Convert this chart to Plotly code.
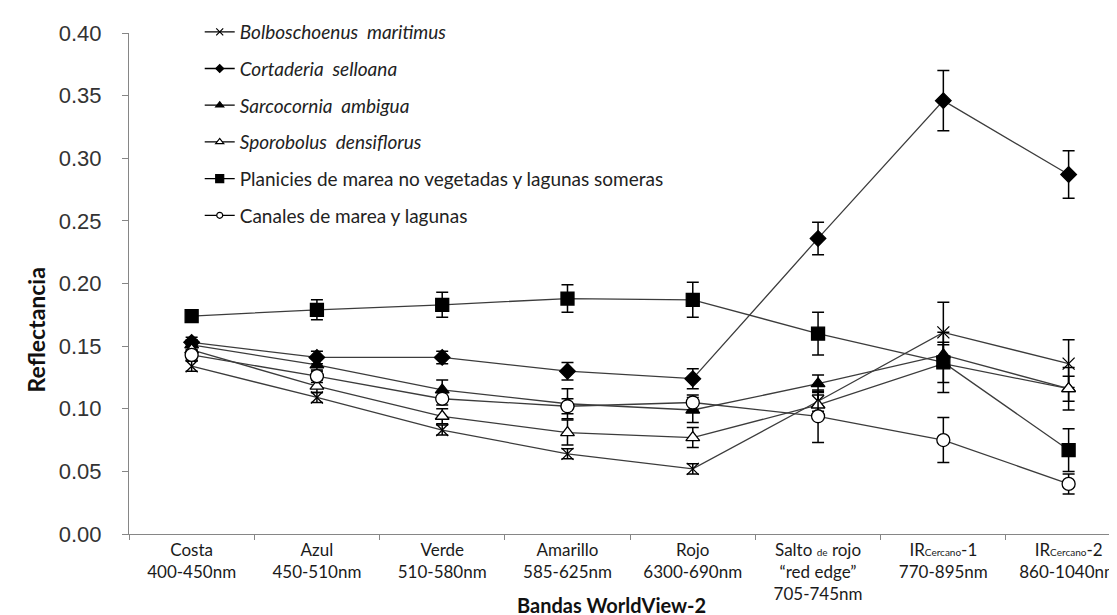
import plotly.graph_objects as go

categories = [
    "Costa<br>400-450nm",
    "Azul<br>450-510nm",
    "Verde<br>510-580nm",
    "Amarillo<br>585-625nm",
    "Rojo<br>6300-690nm",
    "Salto <span style='font-size:10px'>de</span> rojo<br>“red edge”<br>705-745nm",
    "IR<span style='font-size:10px'>Cercano</span>-1<br>770-895nm",
    "IR<span style='font-size:10px'>Cercano</span>-2<br>860-1040nm",
]

names = [
    "<i>Bolboschoenus  maritimus</i>",
    "<i>Cortaderia  selloana</i>",
    "<i>Sarcocornia  ambigua</i>",
    "<i>Sporobolus  densiflorus</i>",
    "Planicies de marea no vegetadas y lagunas someras",
    "Canales de marea y lagunas",
]

bolboschoenus = [0.134, 0.109, 0.083, 0.064, 0.052, 0.106, 0.161, 0.136]
bolboschoenus_err = [0.004, 0.004, 0.004, 0.004, 0.004, 0.008, 0.024, 0.019]
cortaderia = [0.153, 0.141, 0.141, 0.130, 0.124, 0.236, 0.346, 0.287]
cortaderia_err = [0.004, 0.005, 0.005, 0.007, 0.008, 0.013, 0.024, 0.019]
sarcocornia = [0.151, 0.135, 0.115, 0.104, 0.099, 0.120, 0.143, 0.116]
sarcocornia_err = [0.004, 0.005, 0.008, 0.012, 0.010, 0.007, 0.010, 0.010]
sporobolus = [0.147, 0.118, 0.094, 0.081, 0.077, 0.103, 0.136, 0.116]
sporobolus_err = [0.004, 0.005, 0.006, 0.010, 0.008, 0.008, 0.015, 0.017]
planicies = [0.174, 0.179, 0.183, 0.188, 0.187, 0.160, 0.137, 0.067]
planicies_err = [0.004, 0.008, 0.010, 0.011, 0.014, 0.017, 0.024, 0.017]
canales = [0.143, 0.126, 0.108, 0.102, 0.105, 0.094, 0.075, 0.040]
canales_err = [0.004, 0.005, 0.005, 0.006, 0.006, 0.021, 0.018, 0.008]

series = [bolboschoenus, cortaderia, sarcocornia, sporobolus, planicies, canales]
errors = [bolboschoenus_err, cortaderia_err, sarcocornia_err, sporobolus_err, planicies_err, canales_err]
symbols = ["x-thin-open", "diamond", "triangle-up", "triangle-up", "square", "circle"]
sizes = [12, 12, 12, 12, 13, 13]
legend_sizes = [7, 6, 7, 7, 8, 6]
fills = ["black", "black", "black", "white", "black", "white"]

LINE = "#3c3c3c"
PLOT_L, PLOT_T, PLOT_B = 121, 25, 526
PLOT_W, PLOT_H = 1117 - PLOT_L, PLOT_B - PLOT_T

fig = go.Figure()
for i in range(len(series)):
    fig.add_trace(go.Scatter(
        x=categories, y=series[i], name=names[i], mode="lines+markers",
        showlegend=False,
        line=dict(color=LINE, width=1.3),
        marker=dict(symbol=symbols[i], size=sizes[i], color=fills[i],
                    line=dict(color="black", width=1.3)),
        error_y=dict(type="data", array=errors[i], visible=True,
                     color="black", thickness=1.5, width=6),
    ))
# legend entries (small symbols, as in the reference)
for i in range(len(series)):
    fig.add_trace(go.Scatter(
        x=[None], y=[None], name=names[i], mode="lines+markers",
        legendgroup=str(i),
        line=dict(color="black", width=1.3),
        marker=dict(symbol=symbols[i], size=legend_sizes[i], color=fills[i],
                    line=dict(color="black", width=1.2)),
    ))

fig.update_layout(
    template="none",
    width=1117, height=615,
    margin=dict(l=PLOT_L, r=0, t=PLOT_T, b=615 - PLOT_B),
    paper_bgcolor="white", plot_bgcolor="white",
    showlegend=True,
    legend=dict(x=0.071, y=1.04, xanchor="left", yanchor="top",
                font=dict(family="Lato", size=19, color="#222"),
                tracegroupgap=9, bgcolor="rgba(0,0,0,0)", borderwidth=0),
    font=dict(family="Liberation Sans", color="black"),
    annotations=[
        dict(text="<b>Bandas WorldView-2</b>", xref="paper", yref="paper",
             x=(603 - PLOT_L) / PLOT_W, y=-(597 - PLOT_B) / PLOT_H,
             xanchor="center", yanchor="middle",
             showarrow=False, font=dict(family="Lato", size=20, color="#111")),
        dict(text="<b>Reflectancia</b>", xref="paper", yref="paper",
             x=(27.5 - PLOT_L) / PLOT_W, y=(PLOT_B - 322) / PLOT_H, xanchor="center",
             yanchor="middle", textangle=-90, showarrow=False,
             font=dict(family="Lato", size=23, color="#111")),
    ],
)
fig.update_xaxes(
    type="category", categoryorder="array", categoryarray=categories,
    range=[-0.5, 7.45], tickson="boundaries", ticks="outside", ticklen=5,
    tickcolor="#868686", showline=True, linecolor="#868686", linewidth=1.2,
    showgrid=False, zeroline=False, automargin=False,
    tickfont=dict(family="Lato", size=17, color="#1a1a1a"),
)
fig.update_yaxes(
    range=[0, 0.40], dtick=0.05, tickformat=".2f", ticks="outside", ticklen=6,
    tickcolor="#868686", showline=True, linecolor="#868686", linewidth=1.2,
    showgrid=False, zeroline=False, automargin=False, ticklabelstandoff=16,
    tickfont=dict(family="Liberation Sans", size=22, color="#333"),
)

fig.write_html("out.html")
